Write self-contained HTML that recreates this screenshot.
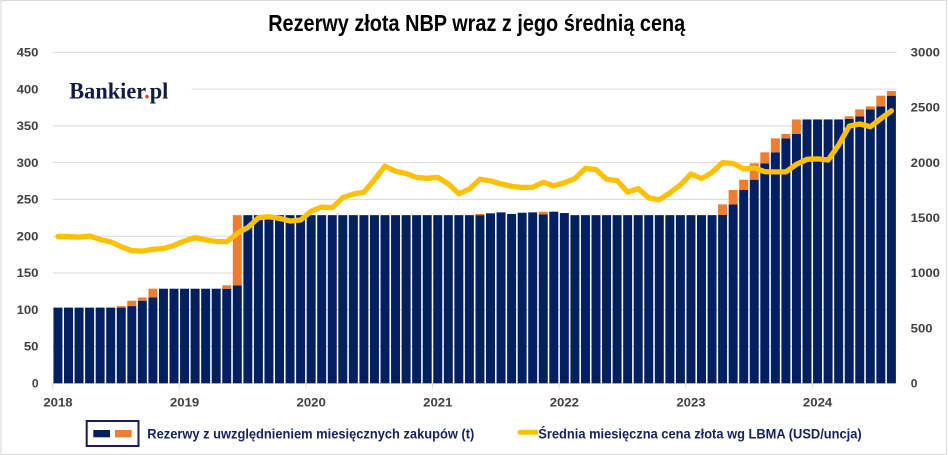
<!DOCTYPE html>
<html>
<head>
<meta charset="utf-8">
<style>
html,body{margin:0;padding:0;background:#fff;}
svg{display:block;}
</style>
</head>
<body>
<svg width="948" height="455" viewBox="0 0 948 455" xmlns="http://www.w3.org/2000/svg" font-family="Liberation Sans, DejaVu Sans, sans-serif">
<rect x="0" y="0" width="948" height="455" fill="#fff"/>
<rect x="1" y="0.5" width="945.5" height="454" fill="none" stroke="#D9D9D9" stroke-width="1"/>

<text x="476.7" y="31" text-anchor="middle" font-size="23" font-weight="bold" fill="#000" textLength="417" lengthAdjust="spacingAndGlyphs">Rezerwy złota NBP wraz z jego średnią ceną</text>

<g stroke="#D9D9D9" stroke-width="1">
<line x1="52.7" y1="52.3" x2="896.7" y2="52.3"/>
<line x1="191.5" y1="89.1" x2="896.7" y2="89.1"/>
<line x1="52.7" y1="125.9" x2="896.7" y2="125.9"/>
<line x1="52.7" y1="162.6" x2="896.7" y2="162.6"/>
<line x1="52.7" y1="199.4" x2="896.7" y2="199.4"/>
<line x1="52.7" y1="236.2" x2="896.7" y2="236.2"/>
<line x1="52.7" y1="273.0" x2="896.7" y2="273.0"/>
<line x1="52.7" y1="309.7" x2="896.7" y2="309.7"/>
<line x1="52.7" y1="346.5" x2="896.7" y2="346.5"/>
<line x1="52.7" y1="383.3" x2="896.7" y2="383.3"/>
<line x1="52.7" y1="383.3" x2="52.7" y2="388.5"/>
<line x1="179.3" y1="383.3" x2="179.3" y2="388.5"/>
<line x1="305.9" y1="383.3" x2="305.9" y2="388.5"/>
<line x1="432.5" y1="383.3" x2="432.5" y2="388.5"/>
<line x1="559.1" y1="383.3" x2="559.1" y2="388.5"/>
<line x1="685.7" y1="383.3" x2="685.7" y2="388.5"/>
<line x1="812.3" y1="383.3" x2="812.3" y2="388.5"/>
</g>

<text x="69.3" y="98.3" style="font-family:'Liberation Serif','DejaVu Serif',serif;" font-size="23" font-weight="bold" fill="#141B45" textLength="99" lengthAdjust="spacingAndGlyphs">Bankier<tspan fill="#E8452C">.</tspan>pl</text>

<g fill="#02205F">
<rect x="53.45" y="307.61" width="9" height="75.69"/>
<rect x="64.00" y="307.61" width="9" height="75.69"/>
<rect x="74.55" y="307.61" width="9" height="75.69"/>
<rect x="85.10" y="307.61" width="9" height="75.69"/>
<rect x="95.65" y="307.61" width="9" height="75.69"/>
<rect x="106.20" y="307.61" width="9" height="75.69"/>
<rect x="116.75" y="307.61" width="9" height="75.69"/>
<rect x="127.30" y="306.07" width="9" height="77.23"/>
<rect x="137.85" y="300.70" width="9" height="82.60"/>
<rect x="148.40" y="297.40" width="9" height="85.90"/>
<rect x="158.95" y="288.71" width="9" height="94.59"/>
<rect x="169.50" y="288.71" width="9" height="94.59"/>
<rect x="180.05" y="288.71" width="9" height="94.59"/>
<rect x="190.60" y="288.71" width="9" height="94.59"/>
<rect x="201.15" y="288.71" width="9" height="94.59"/>
<rect x="211.70" y="288.71" width="9" height="94.59"/>
<rect x="222.25" y="288.71" width="9" height="94.59"/>
<rect x="232.80" y="285.32" width="9" height="97.98"/>
<rect x="243.35" y="215.15" width="9" height="168.15"/>
<rect x="253.90" y="215.15" width="9" height="168.15"/>
<rect x="264.45" y="215.15" width="9" height="168.15"/>
<rect x="275.00" y="215.15" width="9" height="168.15"/>
<rect x="285.55" y="215.15" width="9" height="168.15"/>
<rect x="296.10" y="215.15" width="9" height="168.15"/>
<rect x="306.65" y="215.15" width="9" height="168.15"/>
<rect x="317.20" y="215.15" width="9" height="168.15"/>
<rect x="327.75" y="215.15" width="9" height="168.15"/>
<rect x="338.30" y="215.15" width="9" height="168.15"/>
<rect x="348.85" y="215.15" width="9" height="168.15"/>
<rect x="359.40" y="215.15" width="9" height="168.15"/>
<rect x="369.95" y="215.15" width="9" height="168.15"/>
<rect x="380.50" y="215.15" width="9" height="168.15"/>
<rect x="391.05" y="215.15" width="9" height="168.15"/>
<rect x="401.60" y="215.15" width="9" height="168.15"/>
<rect x="412.15" y="215.15" width="9" height="168.15"/>
<rect x="422.70" y="215.15" width="9" height="168.15"/>
<rect x="433.25" y="215.15" width="9" height="168.15"/>
<rect x="443.80" y="215.15" width="9" height="168.15"/>
<rect x="454.35" y="215.15" width="9" height="168.15"/>
<rect x="464.90" y="215.15" width="9" height="168.15"/>
<rect x="475.45" y="215.15" width="9" height="168.15"/>
<rect x="486.00" y="213.31" width="9" height="169.99"/>
<rect x="496.55" y="212.36" width="9" height="170.94"/>
<rect x="507.10" y="213.97" width="9" height="169.33"/>
<rect x="517.65" y="212.72" width="9" height="170.58"/>
<rect x="528.20" y="212.36" width="9" height="170.94"/>
<rect x="538.75" y="214.49" width="9" height="168.81"/>
<rect x="549.30" y="211.69" width="9" height="171.61"/>
<rect x="559.85" y="213.02" width="9" height="170.28"/>
<rect x="570.40" y="215.15" width="9" height="168.15"/>
<rect x="580.95" y="215.15" width="9" height="168.15"/>
<rect x="591.50" y="215.15" width="9" height="168.15"/>
<rect x="602.05" y="215.15" width="9" height="168.15"/>
<rect x="612.60" y="215.15" width="9" height="168.15"/>
<rect x="623.15" y="215.15" width="9" height="168.15"/>
<rect x="633.70" y="215.15" width="9" height="168.15"/>
<rect x="644.25" y="215.15" width="9" height="168.15"/>
<rect x="654.80" y="215.15" width="9" height="168.15"/>
<rect x="665.35" y="215.15" width="9" height="168.15"/>
<rect x="675.90" y="215.15" width="9" height="168.15"/>
<rect x="686.45" y="215.15" width="9" height="168.15"/>
<rect x="697.00" y="215.15" width="9" height="168.15"/>
<rect x="707.55" y="215.15" width="9" height="168.15"/>
<rect x="718.10" y="215.00" width="9" height="168.30"/>
<rect x="728.65" y="204.34" width="9" height="178.96"/>
<rect x="739.20" y="189.99" width="9" height="193.31"/>
<rect x="749.75" y="179.70" width="9" height="203.60"/>
<rect x="760.30" y="163.37" width="9" height="219.93"/>
<rect x="770.85" y="152.33" width="9" height="230.97"/>
<rect x="781.40" y="138.36" width="9" height="244.94"/>
<rect x="791.95" y="133.95" width="9" height="249.35"/>
<rect x="802.50" y="119.45" width="9" height="263.85"/>
<rect x="813.05" y="119.45" width="9" height="263.85"/>
<rect x="823.60" y="119.45" width="9" height="263.85"/>
<rect x="834.15" y="119.45" width="9" height="263.85"/>
<rect x="844.70" y="118.94" width="9" height="264.36"/>
<rect x="855.25" y="116.29" width="9" height="267.01"/>
<rect x="865.80" y="109.38" width="9" height="273.92"/>
<rect x="876.35" y="106.36" width="9" height="276.94"/>
<rect x="886.90" y="95.70" width="9" height="287.60"/>
</g>

<g fill="#ED7D31">
<rect x="116.75" y="306.07" width="9" height="1.54"/>
<rect x="127.30" y="300.70" width="9" height="5.37"/>
<rect x="137.85" y="297.46" width="9" height="3.24"/>
<rect x="148.40" y="288.71" width="9" height="8.69"/>
<rect x="222.25" y="285.32" width="9" height="3.39"/>
<rect x="232.80" y="215.15" width="9" height="70.17"/>
<rect x="475.45" y="214.0" width="9" height="1.15"/>
<rect x="538.75" y="211.69" width="9" height="2.80"/>
<rect x="718.10" y="204.34" width="9" height="10.66"/>
<rect x="728.65" y="189.99" width="9" height="14.35"/>
<rect x="739.20" y="179.70" width="9" height="10.29"/>
<rect x="749.75" y="163.37" width="9" height="16.33"/>
<rect x="760.30" y="152.33" width="9" height="11.04"/>
<rect x="770.85" y="138.36" width="9" height="13.97"/>
<rect x="781.40" y="133.95" width="9" height="4.41"/>
<rect x="791.95" y="119.45" width="9" height="14.50"/>
<rect x="844.70" y="116.29" width="9" height="2.65"/>
<rect x="855.25" y="109.38" width="9" height="6.91"/>
<rect x="865.80" y="106.36" width="9" height="3.02"/>
<rect x="876.35" y="95.70" width="9" height="10.66"/>
<rect x="886.90" y="90.99" width="9" height="4.71"/>
</g>

<polyline fill="none" stroke="#FFC000" stroke-width="5.3" stroke-linejoin="round" stroke-linecap="round" points="57.98,236.45 68.53,236.45 79.08,237.11 89.63,236.00 100.18,239.54 110.73,241.85 121.28,246.71 131.83,250.68 142.38,251.12 152.93,249.25 163.48,248.58 174.03,245.38 184.58,240.86 195.13,237.66 205.68,239.87 216.23,241.52 226.78,241.74 237.33,233.36 247.88,227.40 258.43,217.80 268.98,216.70 279.53,218.35 290.08,221.00 300.63,220.01 311.18,211.18 321.73,207.10 332.28,207.76 342.83,197.61 353.38,193.97 363.93,192.20 374.48,179.63 385.03,166.16 395.58,171.24 406.13,173.56 416.68,177.42 427.23,178.30 437.78,177.31 448.33,183.82 458.88,193.75 469.43,189.11 479.98,179.18 490.53,180.95 501.08,183.93 511.63,186.36 522.18,187.46 532.73,187.24 543.28,182.27 553.83,185.80 564.38,182.82 574.93,178.52 585.48,168.37 596.03,169.58 606.58,179.29 617.13,180.62 627.68,192.20 638.23,188.56 648.78,197.83 659.33,199.71 669.88,192.86 680.43,184.92 690.98,173.89 701.53,178.63 712.08,172.34 722.63,162.63 733.18,163.52 743.73,168.92 754.28,168.04 764.83,171.68 775.38,171.90 785.93,171.90 796.48,164.29 807.03,159.32 817.58,158.88 828.13,159.99 838.68,145.00 849.23,126.11 859.78,123.91 870.33,126.67 880.88,118.61 891.43,110.78"/>

<g font-size="12" font-weight="bold" fill="#404040" text-anchor="end">
<text x="38.5" y="56.5" textLength="21.9" lengthAdjust="spacingAndGlyphs">450</text>
<text x="38.5" y="93.3" textLength="21.9" lengthAdjust="spacingAndGlyphs">400</text>
<text x="38.5" y="130.1" textLength="21.9" lengthAdjust="spacingAndGlyphs">350</text>
<text x="38.5" y="166.8" textLength="21.9" lengthAdjust="spacingAndGlyphs">300</text>
<text x="38.5" y="203.6" textLength="21.9" lengthAdjust="spacingAndGlyphs">250</text>
<text x="38.5" y="240.4" textLength="21.9" lengthAdjust="spacingAndGlyphs">200</text>
<text x="38.5" y="277.2" textLength="21.9" lengthAdjust="spacingAndGlyphs">150</text>
<text x="38.5" y="313.9" textLength="21.9" lengthAdjust="spacingAndGlyphs">100</text>
<text x="38.5" y="350.7" textLength="14.6" lengthAdjust="spacingAndGlyphs">50</text>
<text x="38.5" y="387.5">0</text>
</g>

<g font-size="12" font-weight="bold" fill="#404040">
<text x="910.7" y="56.5" textLength="29.3" lengthAdjust="spacingAndGlyphs">3000</text>
<text x="910.7" y="111.7" textLength="29.3" lengthAdjust="spacingAndGlyphs">2500</text>
<text x="910.7" y="166.8" textLength="29.3" lengthAdjust="spacingAndGlyphs">2000</text>
<text x="910.7" y="222.0" textLength="29.3" lengthAdjust="spacingAndGlyphs">1500</text>
<text x="910.7" y="277.2" textLength="29.3" lengthAdjust="spacingAndGlyphs">1000</text>
<text x="910.7" y="332.3" textLength="21.9" lengthAdjust="spacingAndGlyphs">500</text>
<text x="910.7" y="387.5">0</text>
</g>

<g font-size="12" font-weight="bold" fill="#404040" text-anchor="middle">
<text x="57.98" y="406.7" textLength="29.3" lengthAdjust="spacingAndGlyphs">2018</text>
<text x="184.58" y="406.7" textLength="29.3" lengthAdjust="spacingAndGlyphs">2019</text>
<text x="311.18" y="406.7" textLength="29.3" lengthAdjust="spacingAndGlyphs">2020</text>
<text x="437.78" y="406.7" textLength="29.3" lengthAdjust="spacingAndGlyphs">2021</text>
<text x="564.38" y="406.7" textLength="29.3" lengthAdjust="spacingAndGlyphs">2022</text>
<text x="690.98" y="406.7" textLength="29.3" lengthAdjust="spacingAndGlyphs">2023</text>
<text x="817.58" y="406.7" textLength="29.3" lengthAdjust="spacingAndGlyphs">2024</text>
</g>

<rect x="86.7" y="421" width="51.8" height="25" fill="none" stroke="#1B1B60" stroke-width="2"/>
<rect x="93.3" y="430" width="16.7" height="7.3" fill="#02205F"/>
<rect x="115" y="430" width="16.7" height="7.3" fill="#ED7D31"/>
<text x="147.3" y="438.3" font-size="14" font-weight="bold" fill="#14235F" textLength="327" lengthAdjust="spacingAndGlyphs">Rezerwy z uwzględnieniem miesięcznych zakupów (t)</text>
<line x1="520" y1="432.3" x2="536" y2="432.3" stroke="#FFC000" stroke-width="5" stroke-linecap="round"/>
<text x="538.3" y="438.3" font-size="14" font-weight="bold" fill="#14235F" textLength="323.4" lengthAdjust="spacingAndGlyphs">Średnia miesięczna cena złota wg LBMA (USD/uncja)</text>
</svg>
</body>
</html>
